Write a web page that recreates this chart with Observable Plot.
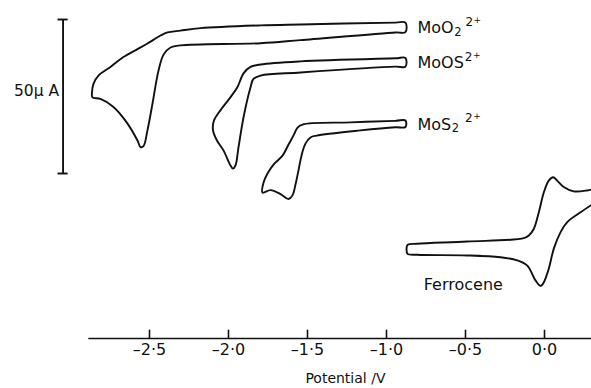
<!DOCTYPE html>
<html><head><meta charset="utf-8">
<script src="https://cdn.jsdelivr.net/npm/d3@7"></script>
<script src="https://cdn.jsdelivr.net/npm/@observablehq/plot@0.6"></script>
<style>html,body{margin:0;padding:0;background:#fff;} #chart{width:591px;height:388px;overflow:hidden}</style>
</head><body><div id="chart"></div>
<script>
// Cyclic voltammograms: potential (V) and current (µA, curves offset as drawn)
const moo2V = [-0.880,-0.943,-1.544,-1.797,-2.177,-2.304,-2.386,-2.430,-2.513,-2.576,-2.665,-2.747,-2.823,-2.854,-2.864,-2.861,-2.810,-2.728,-2.639,-2.576,-2.557,-2.538,-2.513,-2.481,-2.443,-2.411,-2.367,-2.304,-1.797,-1.544,-0.943,-0.880];
const moo2I = [49.0,49.0,48.4,48.1,47.2,46.4,45.8,44.8,42.2,40.4,37.8,34.6,31.8,29.2,26.3,24.7,24.2,21.6,16.2,10.7,8.6,8.9,14.0,22.7,33.4,38.6,40.9,41.6,42.3,43.3,45.8,45.9];
const moosV = [-0.880,-0.943,-1.544,-1.797,-1.861,-1.905,-1.943,-1.987,-2.051,-2.092,-2.098,-2.073,-2.032,-1.987,-1.972,-1.956,-1.937,-1.905,-1.861,-1.842,-1.797,-1.544,-0.943,-0.880];
const moosI = [37.5,37.4,36.4,35.4,34.6,32.5,28.1,24.8,20.5,17.2,14.0,10.7,7.5,2.6,1.6,2.6,8.4,18.2,27.9,30.7,31.8,32.8,34.7,34.7];
const mos2V = [-0.880,-0.943,-1.228,-1.532,-1.563,-1.589,-1.620,-1.658,-1.715,-1.753,-1.778,-1.785,-1.734,-1.671,-1.620,-1.595,-1.576,-1.557,-1.538,-1.513,-1.481,-1.443,-1.165,-0.943,-0.880];
const mos2I = [17.2,17.1,16.6,15.9,14.9,12.3,9.4,5.8,2.9,0.0,-2.9,-6.2,-5.4,-6.7,-8.3,-7.1,-3.6,1.0,5.8,9.7,11.7,12.3,14.0,15.0,15.1];
const fcV = [0.297,0.270,0.185,0.122,0.080,0.055,0.027,-0.004,-0.036,-0.068,-0.099,-0.131,-0.489,-0.806,-0.867,-0.873,-0.867,-0.806,-0.489,-0.278,-0.173,-0.109,-0.057,-0.025,-0.004,0.027,0.059,0.101,0.144,0.228,0.297];
const fcI = [-5.2,-5.5,-5.8,-4.4,-2.3,-1.2,-2.3,-6.1,-12.6,-18.0,-20.1,-21.0,-22.1,-22.8,-23.2,-24.7,-26.1,-26.4,-26.6,-27.2,-28.2,-29.9,-34.7,-36.5,-35.3,-30.9,-24.4,-19.1,-15.8,-12.6,-10.2];

const xTicks = [-2.5, -2.0, -1.5, -1.0, -0.5, 0.0];
const xAxisTitle = "Potential /V";
const scaleBarI = [0, 50];
const scaleBarLabel = "50µ A";
const speciesBase = ["MoO", "MoOS", "MoS"];
const speciesSub = ["2", "", "2"];
const speciesCharge = ["2", "2", "2"];
const speciesSign = ["+", "+", "+"];
const ferroceneLabel = "Ferrocene";

// build tables
const toRows = (name, V, I) => V.map((v, i) => ({curve: name, V: v, I: I[i]}));
const loopRows = [
  ...toRows("MoO2", moo2V, moo2I),
  ...toRows("MoOS", moosV, moosI),
  ...toRows("MoS2", mos2V, mos2I)
];
const fcRows = toRows("Ferrocene", fcV, fcI);
const loops = [[moo2V, moo2I], [moosV, moosI], [mos2V, mos2I]];
const speciesRows = loops.map(([V, I], k) => ({
  V: V[0],
  I: (I[0] + I[I.length - 1]) / 2,
  text: speciesBase[k] + speciesSub[k] + speciesCharge[k] + speciesSign[k]
}));

const xDomain = [-3.443, 0.2975];
const yDomain = [-53.57, 56.17];
const axisStart = -2.884;
const barV = -3.047;
const ink = "#111";
const font = "DejaVu Sans";
const fmt = d => d.toFixed(1).replace("-", "\u2013").replace(".", "\u00b7");

const plot = Plot.plot({
  width: 591, height: 388,
  marginTop: 0, marginRight: 0, marginBottom: 50, marginLeft: 0,
  x: {domain: xDomain, axis: null},
  y: {domain: yDomain, axis: null},
  style: {fontFamily: font, fontSize: "15px", background: "#fff", color: ink},
  marks: [
    Plot.line(loopRows, {x: "V", y: "I", z: "curve", curve: "catmull-rom-closed", stroke: ink, strokeWidth: 1.9}),
    Plot.line(fcRows, {x: "V", y: "I", curve: "catmull-rom", stroke: ink, strokeWidth: 1.9}),
    // x axis drawn at the frame bottom
    Plot.ruleY([yDomain[0]], {x1: axisStart, x2: xDomain[1], stroke: ink, strokeWidth: 1.6}),
    Plot.ruleX(xTicks, {y1: yDomain[0], y2: yDomain[0] + 2.7, stroke: ink, strokeWidth: 1.6}),
    Plot.axisX(xTicks, {tickSize: 0, tickPadding: 5, tickFormat: fmt, fontSize: 16, label: null, fill: ink}),
    Plot.text([xAxisTitle], {x: -1.26, y: -66.6, fontSize: 14, fill: ink}),
    // current scale bar
    Plot.ruleX([barV], {y1: scaleBarI[0], y2: scaleBarI[1], stroke: ink, strokeWidth: 1.9}),
    Plot.ruleY(scaleBarI, {x1: barV - 0.032, x2: barV + 0.032, stroke: ink, strokeWidth: 1.9}),
    Plot.text([scaleBarLabel], {x: barV, y: 26.7, dx: -4, textAnchor: "end", fontSize: 15.5, fill: ink}),
    // labels
    Plot.text(speciesRows, {x: "V", y: "I", text: "text", dx: 12, dy: 1, textAnchor: "start", fontSize: 16, fill: ink}),
    Plot.text([ferroceneLabel], {x: -0.764, y: -36.0, textAnchor: "start", fontSize: 16, fill: ink})
  ]
});

// sub/superscripts in species labels
const rawLabels = speciesRows.map(d => d.text);
const supGap = [4, 1, 6];
d3.select(plot).selectAll("text").each(function() {
  const i = rawLabels.indexOf(this.textContent);
  if (i < 0) return;
  const t = d3.select(this);
  t.selectAll("*").remove();
  t.text(null);
  t.append("tspan").text(speciesBase[i]);
  let down = 0;
  if (speciesSub[i]) {
    t.append("tspan").attr("font-size", 11.5).attr("dx", 0.5).attr("dy", 2.5).text(speciesSub[i]);
    down = 2.5;
  }
  t.append("tspan").attr("font-size", 12).attr("dx", supGap[i]).attr("dy", -down - 7.6).text(speciesCharge[i]);
  t.append("tspan").attr("font-size", 9).attr("dx", 0.5).attr("dy", -3).text(speciesSign[i]);
});

document.getElementById("chart").appendChild(plot);
</script>
</body></html>
